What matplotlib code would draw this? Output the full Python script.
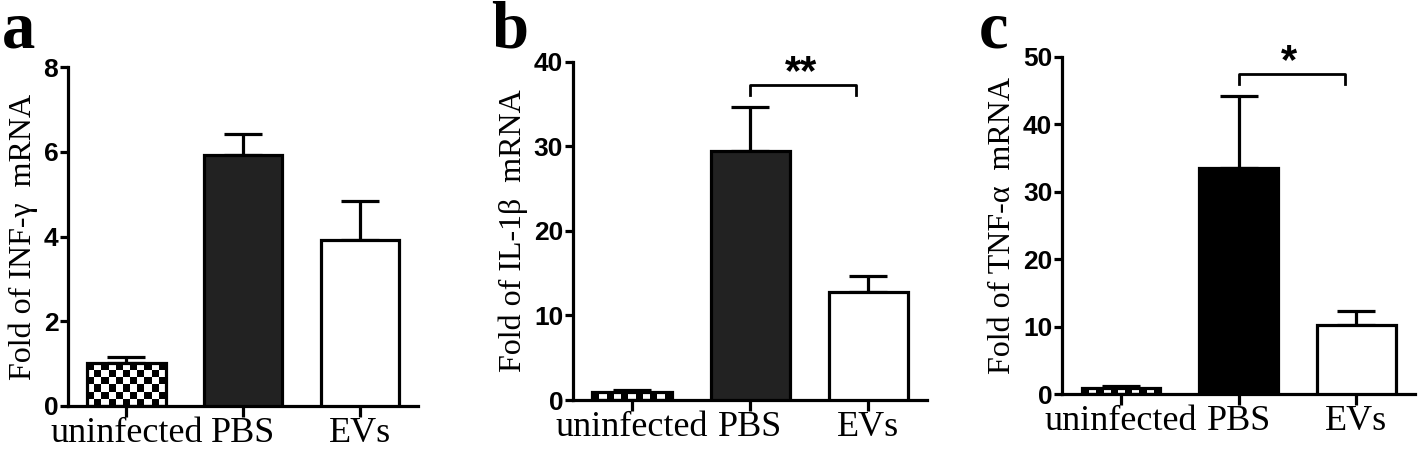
import matplotlib.pyplot as plt
import numpy as np

# ---- data ----
groups = ['uninfected', 'PBS', 'EVs']

inf_mean = [1.01, 5.93, 3.93]
inf_err = [0.15, 0.49, 0.90]

il_mean = [1.0, 29.5, 12.8]
il_err = [0.2, 5.1, 1.9]

tnf_mean = [0.9, 33.5, 10.2]
tnf_err = [0.3, 10.7, 2.1]

panels = [
    ('a', inf_mean, inf_err, 'Fold of INF-\u03b3  mRNA', 8, [0, 2, 4, 6, 8], None, '#222222'),
    ('b', il_mean, il_err, 'Fold of IL-1\u03b2  mRNA', 40, [0, 10, 20, 30, 40], ('**', 37.3, 36.1), '#222222'),
    ('c', tnf_mean, tnf_err, 'Fold of TNF-\u03b1  mRNA', 50, [0, 10, 20, 30, 40, 50], ('*', 47.5, 46.0), '#000000'),
]
positions = [
    [0.048, 0.0998, 0.247, 0.751],
    [0.404, 0.113, 0.250, 0.750],
    [0.749, 0.126, 0.249, 0.748],
]
letter_x = [0.001, 0.346, 0.690]

lw = 2.3
fig = plt.figure(figsize=(14.18, 4.51), dpi=100)

for (letter, mean, err, ylab, ymax, yticks, sig, dark), pos, lx in zip(panels, positions, letter_x):
    ax = fig.add_axes(pos)
    x = np.arange(len(groups))
    bars = ax.bar(x, mean, width=0.67, color=['none', dark, 'white'],
                  edgecolor='black', linewidth=lw, zorder=3)
    ax.errorbar(x, mean, yerr=[np.zeros(len(mean)), err], fmt='none', ecolor='black',
                elinewidth=lw, capsize=14, capthick=lw, zorder=2)
    ax.set_xlim(-0.5, 2.5)
    ax.set_ylim(0, ymax)

    # checkerboard fill for the uninfected bar
    p = bars[0]
    bx, by, bw, bh = p.get_x(), p.get_y(), p.get_width(), p.get_height()
    px0, py0 = ax.transData.transform((bx, by))
    px1, py1 = ax.transData.transform((bx + bw, by + bh))
    nx = max(1, int(round((px1 - px0) / 7)))
    ny = max(1, int(round((py1 - py0) / 7)))
    board = np.indices((ny, nx)).sum(axis=0) % 2
    ax.imshow(board, cmap='gray', extent=(bx, bx + bw, by, by + bh), aspect='auto',
              interpolation='nearest', zorder=2.5)
    ax.set_xlim(-0.5, 2.5)
    ax.set_ylim(0, ymax)

    if sig:
        star, ytop, yleg = sig
        ax.plot([1, 1, 1.9, 1.9], [yleg, ytop, ytop, yleg], color='black', lw=2, clip_on=False)
        ax.text(1.43, ytop - ymax * 0.025, star, ha='center', va='bottom',
                fontsize=30, fontweight='bold', family='Liberation Sans', clip_on=False)

    for s in ['top', 'right']:
        ax.spines[s].set_visible(False)
    for s in ['left', 'bottom']:
        ax.spines[s].set_linewidth(lw)
    ax.set_yticks(yticks)
    ax.set_xticks(x)
    ax.set_xticklabels(groups, family='Liberation Serif', fontsize=26)
    for t in ax.get_yticklabels():
        t.set_family('Liberation Sans')
        t.set_fontweight('bold')
        t.set_fontsize(19)
    ax.tick_params(axis='y', direction='out', length=6, width=lw, pad=1)
    ax.tick_params(axis='x', direction='out', length=8, width=lw, pad=0)
    ax.set_ylabel(ylab, family='Liberation Serif', fontsize=23, labelpad=4)

    fig.text(lx, 1.0, letter, ha='left', va='top', fontsize=48,
             fontweight='bold', family='Liberation Serif')

fig.savefig('out.png', dpi=100)
